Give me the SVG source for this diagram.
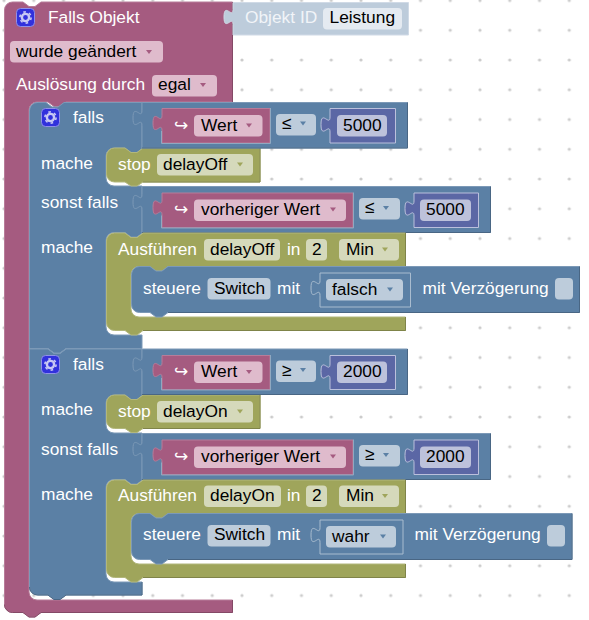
<svg xmlns="http://www.w3.org/2000/svg" xmlns:xlink="http://www.w3.org/1999/xlink" width="589" height="620" viewBox="0 0 589 620">
<style>
text{font-family:"Liberation Sans",Arial,sans-serif;font-size:17.33px;white-space:pre}
.w{fill:#fff}.k{fill:#000}
.ma{fill:#A55B80;stroke:#B77C99;stroke-width:1}
.bl{fill:#5B80A5;stroke:#7C99B7;stroke-width:1}
.ol{fill:#9FA55B;stroke:#B2B77C;stroke-width:1}
.nu{fill:#5B67A5;stroke:#BBC0DC;stroke-width:1}
.sh{fill:#5B80A5;stroke:#A9BCCF;stroke-width:1}
.id{fill:#BDCCDB;stroke:#D0DAE6;stroke-width:1}
.dk{fill:none;stroke:#496684;stroke-width:1}
.dm{fill:none;stroke:#844966;stroke-width:1}
.do{fill:none;stroke:#7F8449;stroke-width:1}
.hl{fill:none;stroke:#90A8C0;stroke-width:1}
.fm{fill:#DFBBCC}.fb{fill:#BDCCDB}.fo{fill:#D5D9BB}.fn{fill:#BDC2DB}.fi{fill:#E4EAF1}
.am{fill:#A55B80}.ab{fill:#5B80A5}.ao{fill:#9FA55B}
.ar{font-family:"DejaVu Sans",sans-serif;font-size:17px;fill:#fff}
</style>
<defs>
<pattern id="grid" patternUnits="userSpaceOnUse" x="4" y="0.5" width="29.75" height="29.75"><circle cx="0" cy="0" r="1.6" fill="#ccc"/><circle cx="29.75" cy="0" r="1.6" fill="#ccc"/><circle cx="0" cy="29.75" r="1.6" fill="#ccc"/><circle cx="29.75" cy="29.75" r="1.6" fill="#ccc"/></pattern>
<polygon id="tri" points="0,0 6,0 3,4"/>
<g id="gear">
<rect x="0.5" y="0.5" width="18" height="18" rx="4" fill="#3131DC" stroke="#9090E8"/>
<circle cx="9.5" cy="9.5" r="3.6" fill="none" stroke="#C8C8F4" stroke-width="2.4"/>
<circle cx="9.5" cy="9.5" r="5.6" fill="none" stroke="#C8C8F4" stroke-width="1.6" stroke-dasharray="2.6 3.26"/>
</g>
</defs>
<rect width="589" height="620" fill="#fff"/>
<rect width="589" height="620" fill="url(#grid)"/>

<g id="falls-objekt">
<path class="ma" d="M4.5,10 a8,8 0 0 1 8,-8 H23 l6,4.5 h6 l6,-4.5 H232.5 V102 H66 l-6,4.5 h-6 l-6,-4.5 H37 a8,8 0 0 0 -8,8 V592 a8,8 0 0 0 8,8 H232.5 V612.5 H41 l-6,4.5 h-6 l-6,-4.5 H12.5 a8,8 0 0 1 -8,-8 Z"/>
<path class="dm" d="M232.5,2 V102 M232.5,600 V612.5 H41 l-6,4.5 h-6 l-6,-4.5 H12.5 a8,8 0 0 1 -8,-8"/>
<use xlink:href="#gear" href="#gear" x="16" y="8"/>
<text class="w" x="48" y="23">Falls Objekt</text>
<rect class="fm" x="10" y="41" width="153" height="21.5" rx="4"/>
<text class="k" x="16" y="57">wurde geändert</text>
<use class="am" href="#tri" x="146" y="50"/>
<text class="w" x="16" y="90">Auslösung durch</text>
<rect class="fm" x="152" y="75" width="65" height="21.5" rx="4"/>
<text class="k" x="158" y="90">egal</text>
<use class="am" href="#tri" x="200" y="83"/>
</g>

<g id="objekt-id">
<path class="id" d="M233,2.5 H408.5 V35 H233 V24.5 c0,-10 -9,8 -9,-7.5 s9,2.5 9,-7.5 Z"/>
<text fill="#F1F4F8" x="245" y="23">Objekt ID</text>
<rect class="fi" x="323" y="8" width="79" height="21.5" rx="4"/>
<text class="k" x="329.5" y="23">Leistung</text>
</g>

<g id="falls-1">
<path class="bl" d="M29.5,110.5 a8,8 0 0 1 8,-8 H46 l6,4.5 h6 l6,-4.5 H142 V148 H143 l-6,4.5 h-6 l-6,-4.5 H114 a8,8 0 0 0 -8,8 V178 a8,8 0 0 0 8,8 H142 V232.5 H143 l-6,4.5 h-6 l-6,-4.5 H114 a8,8 0 0 0 -8,8 V327 a8,8 0 0 0 8,8 H142 V348.5 H66 l-6,4.5 h-6 l-6,-4.5 H29.5 Z"/>
<use href="#gear" x="41" y="108"/>
<text class="w" x="73" y="122.5">falls</text>
<text class="w" x="41" y="168.5">mache</text>
<text class="w" x="41" y="207.5">sonst falls</text>
<text class="w" x="41" y="252.5">mache</text>
</g>

<g id="stop-delayoff">
<path class="ol" d="M106.5,156 a8,8 0 0 1 8,-8 H125 l6,4.5 h6 l6,-4.5 H260 V182 H143 l-6,4 h-6 l-6,-4 H114.5 a8,8 0 0 1 -8,-8 Z"/>
<path class="do" d="M260,148 V182 H143"/>
<text class="w" x="118" y="169.5">stop</text>
<rect class="fo" x="157" y="154" width="96" height="21.5" rx="4"/>
<text class="k" x="163" y="169.5">delayOff</text>
<use class="ao" href="#tri" x="237" y="162.5"/>
</g>

<g id="compare-1">
<path class="bl" d="M142,102.5 H407.5 V148 H142 V125.5 c0,-10 -9,8 -9,-7.5 s9,2.5 9,-7.5 Z"/>
<path class="dk" d="M407.5,102.5 V148 H142"/>
<g id="wert-1">
<path class="ma" d="M162,108.5 H270 V143 H162 V130.5 c0,-10 -9,8 -9,-7.5 s9,2.5 9,-7.5 Z"/>
<path class="hl" d="M270.5,108 V143.5 H161.5 V131"/>
<text class="ar" x="174" y="131">↪</text>
<rect class="fm" x="194" y="115" width="68.5" height="21.5" rx="4"/>
<text class="k" x="201" y="131">Wert</text>
<use class="am" href="#tri" x="246" y="123.5"/>
</g>
<rect class="fb" x="276" y="114" width="40" height="21.5" rx="4"/>
<text class="k" x="282" y="129">≤</text>
<use class="ab" href="#tri" x="300" y="121.5"/>
<g id="num-1">
<path class="nu" d="M330,108.5 H395.5 V143 H330 V132 c0,-10 -9,8 -9,-7.5 s9,2.5 9,-7.5 Z"/>
<rect class="fn" x="337" y="115" width="50" height="21.5" rx="4"/>
<text class="k" x="343" y="131">5000</text>
</g>
</g>

<g id="compare-2">
<path class="bl" d="M142,186.5 H490.5 V232.5 H142 V209.5 c0,-10 -9,8 -9,-7.5 s9,2.5 9,-7.5 Z"/>
<path class="dk" d="M490.5,186.5 V232.5 H142"/>
<g id="vorheriger-1">
<path class="ma" d="M162,193 H353 V227.5 H162 V215 c0,-10 -9,8 -9,-7.5 s9,2.5 9,-7.5 Z"/>
<path class="hl" d="M353.5,192.5 V228 H161.5 V215.5"/>
<text class="ar" x="174" y="215">↪</text>
<rect class="fm" x="194" y="199.5" width="152" height="21.5" rx="4"/>
<text class="k" x="201" y="215">vorheriger Wert</text>
<use class="am" href="#tri" x="330" y="207.5"/>
</g>
<rect class="fb" x="359" y="198" width="41" height="21.5" rx="4"/>
<text class="k" x="365" y="213">≤</text>
<use class="ab" href="#tri" x="383" y="206"/>
<g id="num-2">
<path class="nu" d="M414,193 H478.5 V227.5 H414 V216 c0,-10 -9,8 -9,-7.5 s9,2.5 9,-7.5 Z"/>
<rect class="fn" x="420" y="199.5" width="51" height="21.5" rx="4"/>
<text class="k" x="426" y="215">5000</text>
</g>
</g>

<g id="ausfuehren-delayoff">
<path class="ol" d="M106.5,241 a8,8 0 0 1 8,-8 H125 l6,4.5 h6 l6,-4.5 H405.5 V266.5 H168 l-6,4.5 h-6 l-6,-4.5 H139 a8,8 0 0 0 -8,8 V309 a8,8 0 0 0 8,8 H405.5 V330.5 H143 l-6,4.5 h-6 l-6,-4.5 H114.5 a8,8 0 0 1 -8,-8 Z"/>
<path class="do" d="M405.5,233 V266.5 M405.5,317 V330.5 H143"/>
<text class="w" x="118" y="254.5">Ausführen</text>
<rect class="fo" x="204" y="239" width="76" height="21.5" rx="4"/>
<text class="k" x="210" y="254.5">delayOff</text>
<text class="w" x="287" y="254.5">in</text>
<rect class="fo" x="306" y="239" width="21" height="21.5" rx="4"/>
<text class="k" x="312" y="254.5">2</text>
<rect class="fo" x="339" y="239" width="60" height="21.5" rx="4"/>
<text class="k" x="346" y="254.5">Min</text>
<use class="ao" href="#tri" x="382" y="247.5"/>
</g>

<g id="steuere-1">
<path class="bl" d="M131.5,274.5 a8,8 0 0 1 8,-8 H150 l6,4.5 h6 l6,-4.5 H579.5 V312.5 H168 l-6,4.5 h-6 l-6,-4.5 H139.5 a8,8 0 0 1 -8,-8 Z"/>
<path class="dk" d="M579.5,266.5 V312.5 H168"/>
<text class="w" x="143" y="294">steuere</text>
<rect class="fb" x="207.5" y="278" width="63" height="21.5" rx="4"/>
<text class="k" x="214" y="294">Switch</text>
<text class="w" x="277" y="294">mit</text>
<g id="falsch">
<path class="sh" d="M320,273 H410.5 V307 H320 V295.5 c0,-10 -9,8 -9,-7.5 s9,2.5 9,-7.5 Z"/>
<rect class="fb" x="326" y="279" width="77" height="21.5" rx="4"/>
<text class="k" x="332" y="295">falsch</text>
<use class="ab" href="#tri" x="387" y="287.5"/>
</g>
<text class="w" x="422.5" y="294">mit Verzögerung</text>
<rect class="fb" x="555" y="278" width="18" height="21.5" rx="4"/>
</g>

<g id="falls-2">
<path class="bl" d="M29.5,357 V349 H46 H48 l6,4.5 h6 l6,-4.5 H142 V395 H143 l-6,4.5 h-6 l-6,-4.5 H114 a8,8 0 0 0 -8,8 V425 a8,8 0 0 0 8,8 H142 V479.5 H143 l-6,4.5 h-6 l-6,-4.5 H114 a8,8 0 0 0 -8,8 V574 a8,8 0 0 0 8,8 H142 V595 H66 l-6,4.5 h-6 l-6,-4.5 H37.5 a8,8 0 0 1 -8,-8 Z"/>
<path class="dk" d="M142,582 V595 H66 l-6,4.5 h-6 l-6,-4.5 H37.5 a8,8 0 0 1 -8,-8"/>
<use href="#gear" x="41" y="355"/>
<text class="w" x="73" y="370">falls</text>
<text class="w" x="41" y="415">mache</text>
<text class="w" x="41" y="454.5">sonst falls</text>
<text class="w" x="41" y="500">mache</text>
</g>

<g id="stop-delayon">
<path class="ol" d="M106.5,403 a8,8 0 0 1 8,-8 H125 l6,4.5 h6 l6,-4.5 H260 V428.5 H143 l-6,4 h-6 l-6,-4 H114.5 a8,8 0 0 1 -8,-8 Z"/>
<path class="do" d="M260,395 V428.5 H143"/>
<text class="w" x="118" y="416.5">stop</text>
<rect class="fo" x="157" y="401" width="96" height="21.5" rx="4"/>
<text class="k" x="163" y="416.5">delayOn</text>
<use class="ao" href="#tri" x="237" y="409.5"/>
</g>

<g id="compare-3">
<path class="bl" d="M142,349 H407.5 V394.5 H142 V372 c0,-10 -9,8 -9,-7.5 s9,2.5 9,-7.5 Z"/>
<path class="dk" d="M407.5,349 V394.5 H142"/>
<g id="wert-2">
<path class="ma" d="M162,355.5 H270 V389.5 H162 V377.5 c0,-10 -9,8 -9,-7.5 s9,2.5 9,-7.5 Z"/>
<path class="hl" d="M270.5,355 V390 H161.5 V378"/>
<text class="ar" x="174" y="377">↪</text>
<rect class="fm" x="194" y="361.5" width="68.5" height="21.5" rx="4"/>
<text class="k" x="201" y="377">Wert</text>
<use class="am" href="#tri" x="246" y="370"/>
</g>
<rect class="fb" x="276" y="360.5" width="40" height="21.5" rx="4"/>
<text class="k" x="282" y="375.5">≥</text>
<use class="ab" href="#tri" x="300" y="368"/>
<g id="num-3">
<path class="nu" d="M330,355.5 H395.5 V389.5 H330 V379 c0,-10 -9,8 -9,-7.5 s9,2.5 9,-7.5 Z"/>
<rect class="fn" x="337" y="361.5" width="50" height="21.5" rx="4"/>
<text class="k" x="343" y="377">2000</text>
</g>
</g>

<g id="compare-4">
<path class="bl" d="M142,433.5 H490.5 V479.5 H142 V456.5 c0,-10 -9,8 -9,-7.5 s9,2.5 9,-7.5 Z"/>
<path class="dk" d="M490.5,433.5 V479.5 H142"/>
<g id="vorheriger-2">
<path class="ma" d="M162,440 H353 V474.5 H162 V462 c0,-10 -9,8 -9,-7.5 s9,2.5 9,-7.5 Z"/>
<path class="hl" d="M353.5,439.5 V475 H161.5 V462.5"/>
<text class="ar" x="174" y="462">↪</text>
<rect class="fm" x="194" y="446.5" width="152" height="21.5" rx="4"/>
<text class="k" x="201" y="462">vorheriger Wert</text>
<use class="am" href="#tri" x="330" y="454.5"/>
</g>
<rect class="fb" x="359" y="445" width="41" height="21.5" rx="4"/>
<text class="k" x="365" y="460">≥</text>
<use class="ab" href="#tri" x="383" y="453"/>
<g id="num-4">
<path class="nu" d="M414,440 H478.5 V474.5 H414 V463 c0,-10 -9,8 -9,-7.5 s9,2.5 9,-7.5 Z"/>
<rect class="fn" x="420" y="446.5" width="51" height="21.5" rx="4"/>
<text class="k" x="426" y="462">2000</text>
</g>
</g>

<g id="ausfuehren-delayon">
<path class="ol" d="M106.5,488 a8,8 0 0 1 8,-8 H125 l6,4.5 h6 l6,-4.5 H405.5 V513.5 H168 l-6,4.5 h-6 l-6,-4.5 H139 a8,8 0 0 0 -8,8 V556 a8,8 0 0 0 8,8 H405.5 V577.5 H143 l-6,4.5 h-6 l-6,-4.5 H114.5 a8,8 0 0 1 -8,-8 Z"/>
<path class="do" d="M405.5,480 V513.5 M405.5,564 V577.5 H143"/>
<text class="w" x="118" y="501">Ausführen</text>
<rect class="fo" x="204" y="485.5" width="77" height="21.5" rx="4"/>
<text class="k" x="210" y="501">delayOn</text>
<text class="w" x="287" y="501">in</text>
<rect class="fo" x="306" y="485.5" width="21" height="21.5" rx="4"/>
<text class="k" x="312" y="501">2</text>
<rect class="fo" x="339" y="485.5" width="60" height="21.5" rx="4"/>
<text class="k" x="346" y="501">Min</text>
<use class="ao" href="#tri" x="382" y="494"/>
</g>

<g id="steuere-2">
<path class="bl" d="M131.5,521.5 a8,8 0 0 1 8,-8 H150 l6,4.5 h6 l6,-4.5 H572 V559.5 H168 l-6,4.5 h-6 l-6,-4.5 H139.5 a8,8 0 0 1 -8,-8 Z"/>
<path class="dk" d="M572,513.5 V559.5 H168"/>
<text class="w" x="143" y="540">steuere</text>
<rect class="fb" x="207.5" y="525" width="63" height="21.5" rx="4"/>
<text class="k" x="214" y="540">Switch</text>
<text class="w" x="277" y="540">mit</text>
<g id="wahr">
<path class="sh" d="M320,520 H403 V554 H320 V542.5 c0,-10 -9,8 -9,-7.5 s9,2.5 9,-7.5 Z"/>
<rect class="fb" x="326" y="526" width="70" height="21.5" rx="4"/>
<text class="k" x="332" y="542">wahr</text>
<use class="ab" href="#tri" x="380" y="534.5"/>
</g>
<text class="w" x="414.5" y="540">mit Verzögerung</text>
<rect class="fb" x="547" y="525" width="18" height="21.5" rx="4"/>
</g>
</svg>
